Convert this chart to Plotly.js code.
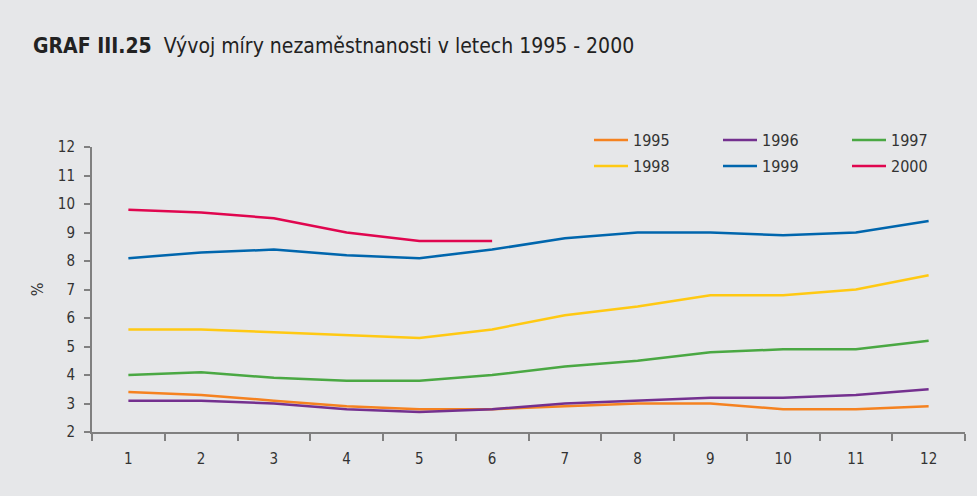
<!DOCTYPE html>
<html>
<head>
<meta charset="utf-8">
<script src="https://cdn.plot.ly/plotly-3.0.1.min.js"></script>
<style>html,body{margin:0;padding:0;background:#e6e7e9;}#chart{width:977px;height:496px;}</style>
</head>
<body>
<div id="chart"></div>
<script>
const months = [1,2,3,4,5,6,7,8,9,10,11,12];
const monthLabels = ['1','2','3','4','5','6','7','8','9','10','11','12'];
const y1995 = [3.4, 3.3, 3.1, 2.9, 2.8, 2.8, 2.9, 3.0, 3.0, 2.8, 2.8, 2.9];
const y1996 = [3.1, 3.1, 3.0, 2.8, 2.7, 2.8, 3.0, 3.1, 3.2, 3.2, 3.3, 3.5];
const y1997 = [4.0, 4.1, 3.9, 3.8, 3.8, 4.0, 4.3, 4.5, 4.8, 4.9, 4.9, 5.2];
const y1998 = [5.6, 5.6, 5.5, 5.4, 5.3, 5.6, 6.1, 6.4, 6.8, 6.8, 7.0, 7.5];
const y1999 = [8.1, 8.3, 8.4, 8.2, 8.1, 8.4, 8.8, 9.0, 9.0, 8.9, 9.0, 9.4];
const y2000 = [9.8, 9.7, 9.5, 9.0, 8.7, 8.7];
const yTicks = [2,3,4,5,6,7,8,9,10,11,12];

const FONT = '"Liberation Sans Narrow", "DejaVu Sans Condensed", sans-serif';

function tr(name, ys, color, legend) {
  return {x: months.slice(0, ys.length), y: ys, name: name, type: 'scatter', mode: 'lines',
    line: {color: color, width: 2.5}, legend: legend};
}
const data = [
  tr('1995', y1995, '#f58220', 'legend'),
  tr('1996', y1996, '#74308f', 'legend'),
  tr('1997', y1997, '#4aa843', 'legend'),
  tr('1998', y1998, '#ffc913', 'legend2'),
  tr('1999', y1999, '#0066ad', 'legend2'),
  tr('2000', y2000, '#e0064f', 'legend2')
];
const legCommon = {orientation: 'h', xref: 'container', yref: 'container', xanchor: 'left', yanchor: 'middle',
  bgcolor: 'rgba(0,0,0,0)', font: {family: FONT, size: 16, color: '#333'},
  entrywidth: 80, entrywidthmode: 'pixels', itemwidth: 34, tracegroupgap: 0};
const layout = {
  width: 977, height: 496,
  paper_bgcolor: '#e6e7e9', plot_bgcolor: '#e6e7e9',
  margin: {l: 92, r: 12, t: 147, b: 64, autoexpand: false},
  font: {family: FONT, color: '#333'},
  title: {text: '<b>GRAF III.25</b>  Vývoj míry nezaměstnanosti v letech 1995 - 2000',
    xref: 'container', yref: 'container', x: 33/977, xanchor: 'left', y: 1 - 46/496, yanchor: 'middle',
    font: {family: FONT, size: 21, color: '#222'}},
  showlegend: true,
  legend: Object.assign({}, legCommon, {x: 589/977, y: 1 - 140/496}),
  legend2: Object.assign({}, legCommon, {x: 589/977, y: 1 - 166/496}),
  xaxis: {range: [0.5, 12.5], tickvals: months, ticktext: monthLabels, ticks: '',
    showline: true, linecolor: '#808080', linewidth: 2, showgrid: false, zeroline: false,
    tickfont: {family: FONT, size: 15, color: '#333'}, ticklabelstandoff: 12,
    minor: {tick0: 0.5, dtick: 1, ticks: 'outside', ticklen: 7, tickcolor: '#808080', tickwidth: 2, showgrid: false}},
  yaxis: {range: [2, 12], tickvals: yTicks, ticks: 'outside', ticklen: 6, tickcolor: '#808080', tickwidth: 2,
    showline: true, linecolor: '#808080', linewidth: 2, showgrid: false, zeroline: false,
    tickfont: {family: FONT, size: 15, color: '#333'}, ticklabelstandoff: 6,
    title: {text: '%', font: {family: FONT, size: 16, color: '#333'}, standoff: 10}}
};
Plotly.newPlot('chart', data, layout, {displayModeBar: false, staticPlot: true});
</script>
</body>
</html>
